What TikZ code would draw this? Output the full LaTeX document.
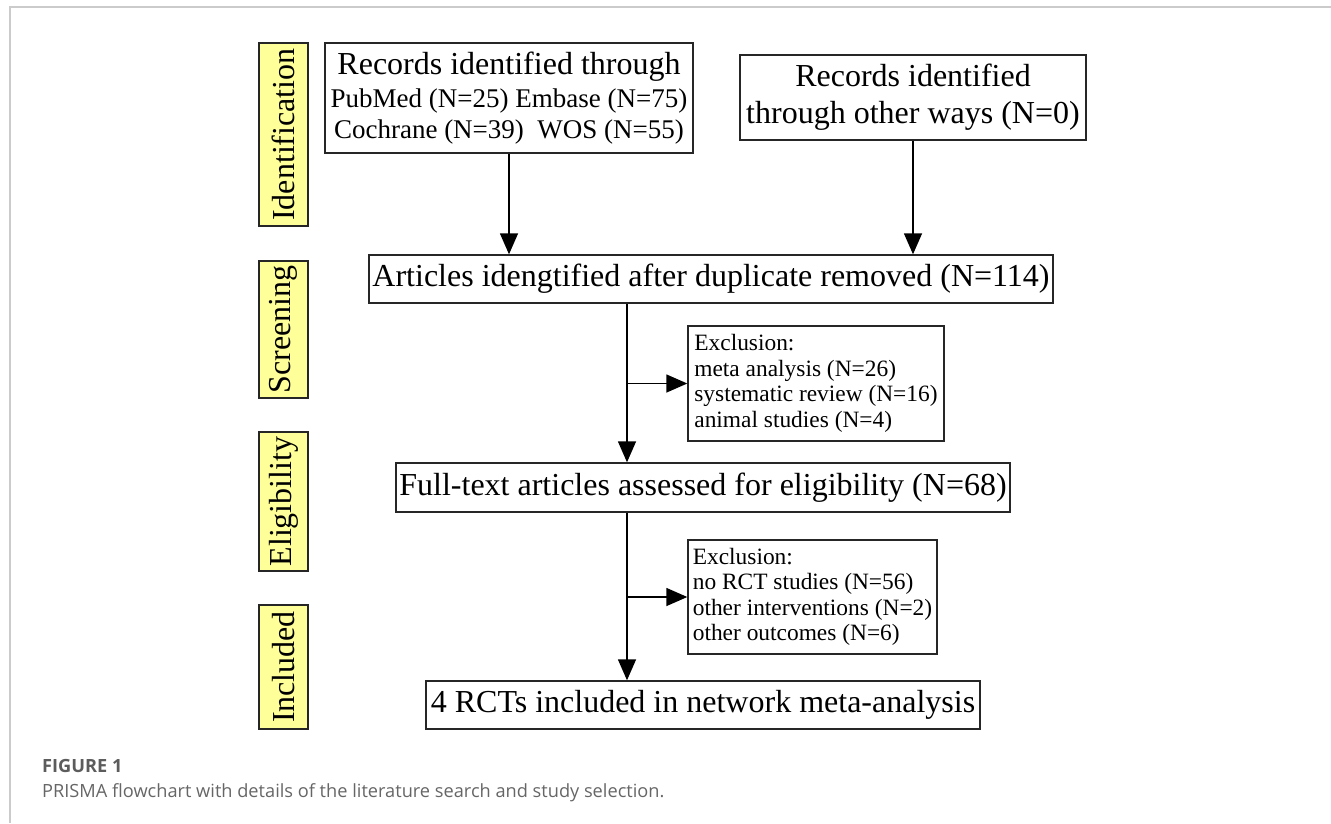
\documentclass[tikz,border=0pt]{standalone}
\usepackage{fontspec}
\setmainfont{Liberation Serif}
\newfontfamily\capfont{Open Sans}
\usepackage{tikz}
\usetikzlibrary{positioning, arrows, arrows.meta}
\definecolor{stageyellow}{HTML}{FFFF99}
\definecolor{framegray}{HTML}{CBCBCB}
\definecolor{capgray}{HTML}{666666}

\begin{document}
\begin{tikzpicture}[x=1pt, y=-1pt,
  box/.style={draw=black!85, line width=1.4pt, inner sep=0pt, align=center,
    font=\fontsize{32}{37}\selectfont},
  exbox/.style={draw=black!85, line width=1.4pt, inner sep=0pt, align=left,
    font=\fontsize{23.4}{25.5}\selectfont},
  stage/.style={draw=black!85, line width=1.2pt, fill=stageyellow, rotate=90,
    minimum height=49pt, inner sep=0pt, font=\fontsize{32}{34}\selectfont},
  arr/.style={line width=1.5pt, -{Triangle[length=21pt,width=18pt]}}]
\useasboundingbox (0,0) rectangle (1331,823);

% page frame
\draw[framegray, line width=2pt] (10,823) -- (10,7) -- (1331,7);

% stages
\node[stage, minimum width=183pt] (ident) at (283.5,134.5) {Identification};
\node[stage, minimum width=137pt] (screen) at (283.5,329.5) {Screening};
\node[stage, minimum width=139pt] (elig) at (283.5,501.5) {Eligibility};
\node[stage, minimum width=124pt] (incl) at (283.5,667) {Included};

% boxes
\node[box, font=\fontsize{32}{31}\selectfont, minimum width=368pt, minimum height=110pt] (rec1) at (509,98)
  {Records identified through\\[2pt]
   \fontsize{27}{31}\selectfont PubMed (N=25) Embase (N=75)\\
   \fontsize{27}{31}\selectfont Cochrane (N=39)~~WOS (N=55)};
\node[box, minimum width=346pt, minimum height=85pt] (rec2) at (913,97.5)
  {Records identified\\through other ways (N=0)};
\node[box, minimum width=684pt, minimum height=48pt] (dedup) at (711,279)
  {Articles idengtified after duplicate removed (N=114)};
\node[exbox, minimum width=256pt, minimum height=115pt] (excl1) at (816,383.5)
  {Exclusion:\\meta analysis (N=26)\\systematic review (N=16)\\animal studies (N=4)};
\node[box, minimum width=614pt, minimum height=49pt] (full) at (703,487.5)
  {Full-text articles assessed for eligibility (N=68)};
\node[exbox, minimum width=249pt, minimum height=114pt] (excl2) at (812.5,597)
  {Exclusion:\\no RCT studies (N=56)\\other interventions (N=2)\\other outcomes (N=6)};
\node[box, minimum width=554pt, minimum height=48pt] (final) at (703,705)
  {4 RCTs included in network meta-analysis};

% arrows
\coordinate (trunk) at (627,0);
\draw[arr] (rec1.south) -- (rec1.south |- dedup.north);
\draw[arr] (rec2.south) -- (rec2.south |- dedup.north);
\draw[arr] (trunk |- dedup.south) -- (trunk |- full.north);
\draw[arr] (trunk |- excl1.west) -- (excl1.west);
\draw[arr] (trunk |- full.south) -- (trunk |- final.north);
\draw[arr] (trunk |- excl2.west) -- (excl2.west);

% caption
\node[anchor=base west, inner sep=0pt, text=capgray!90!black,
  font=\capfont\bfseries\fontsize{18.2}{22}\selectfont] (figno) at (42,772) {FIGURE 1};
\node[anchor=base west, inner sep=0pt, text=capgray,
  font=\capfont\fontsize{18.2}{22}\selectfont] (figcap) at (42,797)
  {PRISMA flowchart with details of the literature search and study selection.};
\end{tikzpicture}
\end{document}
